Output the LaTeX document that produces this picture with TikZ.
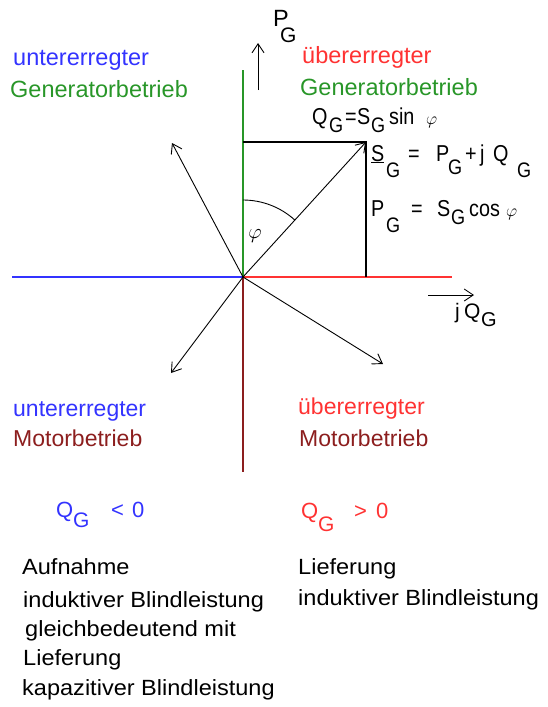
\documentclass[tikz,border=0pt]{standalone}
\usepackage{fontspec}
\setmainfont{Liberation Sans}
\newfontfamily\widefont[FakeStretch=1.07]{Liberation Sans}
\newfontfamily\narrowfont[FakeStretch=0.86]{Liberation Sans}
\usetikzlibrary{arrows.meta}
\definecolor{cblue}{RGB}{51,51,255}
\definecolor{cgreen}{RGB}{40,150,40}
\definecolor{cred}{RGB}{255,50,50}
\definecolor{cdred}{RGB}{140,30,30}
\newcommand\fs[1]{\fontsize{#1pt}{#1pt}\selectfont}
\newcommand\gsub[2][21]{\raisebox{-#2pt}{\fs{#1}G}}
\newcommand\pc[2]{\makebox[#1pt][l]{#2}}
\begin{document}
\begin{tikzpicture}[x=1pt,y=-1pt,
  lbl/.style={anchor=base west,inner sep=0pt,font=\fs{23.5}},
  mlbl/.style={anchor=base west,inner sep=0pt,font=\fs{23}},
  frm/.style={anchor=base west,inner sep=0pt,font=\fs{22}},
  nfrm/.style={anchor=base west,inner sep=0pt,font=\narrowfont\fs{23}},
  note/.style={anchor=base west,inner sep=0pt,font=\widefont\fs{22}},
  vec/.style={line width=0.9pt,-{Straight Barb[length=9pt,width=12pt,line width=0.9pt]}},
  axis/.style={line width=1.6pt}]
\useasboundingbox (0,0) rectangle (547,707);
% points
\coordinate (O) at (243,277);
\coordinate (Ntop) at (243,70);
\coordinate (Nbot) at (243,472);
\coordinate (Wend) at (12,277);
\coordinate (Eend) at (452,277);
\coordinate (S) at (366,142);
\coordinate (Sx) at (366,277);
\coordinate (Sy) at (243,142);
\coordinate (UL) at (172,143);
\coordinate (LL) at (171,373);
\coordinate (LR) at (383,364);
\coordinate (Pa) at (258,90);
\coordinate (Pb) at (258,43);
\coordinate (Qa) at (428,295);
\coordinate (Qb) at (474,295);
% axes
\draw[axis,cblue] (Wend) -- (O);
\draw[axis,cred] (O) -- (Eend);
\draw[axis,cgreen] (O) -- (Ntop);
\draw[axis,cdred] (O) -- (Nbot);
% rectangle
\draw[line width=1.2pt] (Sy) -- (S) -- (Sx);
% vectors
\draw[vec] (O) -- (S);
\draw[vec] (O) -- (UL);
\draw[vec] (O) -- (LL);
\draw[vec] (O) -- (LR);
\draw[vec] (Pa) -- (Pb);
\draw[vec] (Qa) -- (Qb);
% angle
\draw[line width=0.9pt] (O) ++(-90:77) arc (-90:-47.7:77);
\node[font=\fs{22}] (phi) at (255,236) {$\varphi$};
% quadrant labels
\node[lbl,cblue] (ulG1) at (13,65) {untererregter};
\node[lbl,cgreen] (ulG2) at (10,97) {Generatorbetrieb};
\node[lbl,cred] (urG1) at (302,63) {übererregter};
\node[lbl,cgreen] (urG2) at (300,95) {Generatorbetrieb};
\node[mlbl,cblue] (llM1) at (13,416) {untererregter};
\node[mlbl,cdred] (llM2) at (13,446) {Motorbetrieb};
\node[mlbl,cred] (lrM1) at (298,414) {übererregter};
\node[mlbl,cdred] (lrM2) at (299,446) {Motorbetrieb};
% axis labels
\node[lbl] (PG) at (273,26) {\pc{7}{P}\gsub[21]{16}};
\node[frm,font=\fs{21}] (jQG) at (455,318) {\pc{9}{j}\pc{17}{Q}\gsub[20]{8}};
% formulas
\node[nfrm] (f1) at (312,124) {\pc{17}{Q}\pc{16}{\gsub{8}}\pc{12}{=}\pc{14}{S}\pc{18}{\gsub{8}}\pc{37}{sin}{\fs{18}$\varphi$}};
\node[nfrm] (f2) at (371,161) {\pc{15}{\underline{S}}\pc{22}{\gsub{16}}\pc{28}{=}\pc{12}{P}\pc{17}{\gsub{13}}\pc{15}{+}\pc{13}{j}\pc{24}{Q}\gsub{16}};
\node[nfrm] (f3) at (371,216) {\pc{15}{P}\pc{25}{\gsub{16}}\pc{26}{=}\pc{14}{S}\pc{18}{\gsub{8}}\pc{37}{cos}{\fs{18}$\varphi$}};
% sign conditions
\node[frm,cblue] (qn) at (56,517) {\pc{17}{Q}\gsub{10}};
\node[frm,cblue] (qnr) at (111,517) {<\kern8pt 0};
\node[frm,cred] (qp) at (301,518) {\pc{17}{Q}\gsub{13}};
\node[frm,cred] (qpr) at (354,518) {>\kern9pt 0};
% notes
\node[note] (n1) at (22,574) {Aufnahme};
\node[note] (n2) at (23,607) {induktiver Blindleistung};
\node[note] (n3) at (25,636) {gleichbedeutend mit};
\node[note] (n4) at (23,665) {Lieferung};
\node[note] (n5) at (22,695) {kapazitiver Blindleistung};
\node[note] (r1) at (298,574) {Lieferung};
\node[note] (r2) at (298,605) {induktiver Blindleistung};
\end{tikzpicture}
\end{document}
